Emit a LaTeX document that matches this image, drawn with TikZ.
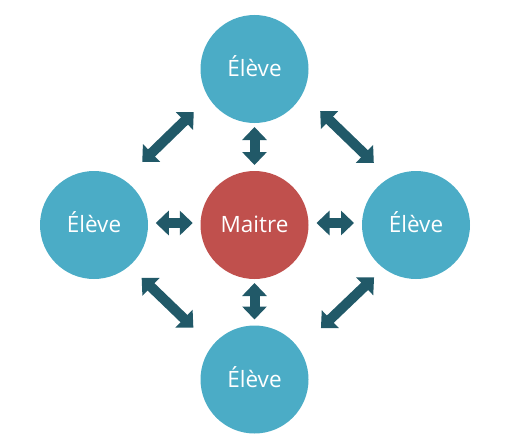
\documentclass[tikz,border=0pt]{standalone}
\usepackage{fontspec}
\setmainfont{Open Sans}
\usetikzlibrary{arrows.meta}
\definecolor{eleveblue}{HTML}{4BACC6}
\definecolor{maitrered}{HTML}{C0504D}
\definecolor{arrowteal}{HTML}{215968}

\begin{document}
\begin{tikzpicture}[x=1pt,y=-1pt,
      elevecircle/.style={
         circle,
         fill=eleveblue,
         text=white,
         inner sep=0pt,
         text height=15pt,
         text depth=0pt,
         minimum size=108pt,
         font=\fontsize{22.5}{27}\selectfont},
      maitrecircle/.style={
         elevecircle,
         fill=maitrered},
      bigarrow/.style={
         draw=arrowteal,
         line width=10pt,
         {Triangle[width=24pt,length=13pt]}-{Triangle[width=24pt,length=13pt]}}
      ]
      \useasboundingbox (0,0) rectangle (513,441);
      \node[maitrecircle] (m) at (254.5,225) {Maitre};
      \node[elevecircle] (e1) at (254.5,69) {Élève};
      \node[elevecircle] (e2) at (94,225) {Élève};
      \node[elevecircle] (e3) at (416,225) {Élève};
      \node[elevecircle] (e4) at (254.5,379.5) {Élève};

    \foreach \i/\j/\dx/\dy/\s in {% start node/end node/shift/shorten
      e1/m/0/-1/59,
      m/e4/0/-1/59,
      e2/m/0/-2/61.75,
      m/e3/0/-2/62,
      e2/e1/-6.25/-10/76,
      e1/e3/11.75/-10/75,
      e2/e4/-6.75/0.5/75.5,
      e4/e3/12.25/0.5/75}
       \draw [bigarrow, shorten <=\s pt, shorten >=\s pt]
          ([shift={(\dx,\dy)}]\i.center) -- ([shift={(\dx,\dy)}]\j.center);
\end{tikzpicture}
\end{document}
